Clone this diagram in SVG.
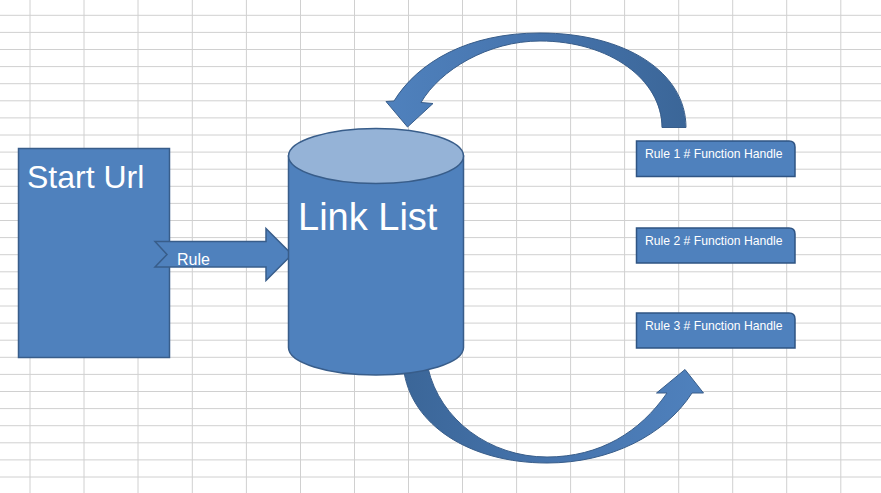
<svg xmlns="http://www.w3.org/2000/svg" width="881" height="493" viewBox="0 0 881 493">
<style>
.grid line{stroke:#d0d0d0;stroke-width:1}
.shape{fill:#4f81bd;stroke:#385d8a;stroke-width:1.5}
.lbl{fill:#ffffff;font-family:"Liberation Sans",Arial,sans-serif}
.rb{fill:#4f81bd;stroke:#2f5483;stroke-width:1.5}
</style>
<defs>
<linearGradient id="gTop" x1="386" y1="0" x2="686" y2="0" gradientUnits="userSpaceOnUse">
<stop offset="0" stop-color="#4f81bd"/><stop offset="0.5" stop-color="#4674ad"/><stop offset="1" stop-color="#3b6698"/>
</linearGradient>
<linearGradient id="gBot" x1="403" y1="0" x2="704" y2="0" gradientUnits="userSpaceOnUse">
<stop offset="0" stop-color="#3b6698"/><stop offset="0.5" stop-color="#4674ad"/><stop offset="1" stop-color="#4f81bd"/>
</linearGradient>
</defs>
<rect x="0" y="0" width="881" height="493" fill="#ffffff"/>
<g class="grid">
<line x1="30" y1="0" x2="30" y2="493"/><line x1="84" y1="0" x2="84" y2="493"/><line x1="138" y1="0" x2="138" y2="493"/><line x1="192.3" y1="0" x2="192.3" y2="493"/><line x1="246.4" y1="0" x2="246.4" y2="493"/><line x1="300.5" y1="0" x2="300.5" y2="493"/><line x1="354.5" y1="0" x2="354.5" y2="493"/><line x1="408.5" y1="0" x2="408.5" y2="493"/><line x1="462.5" y1="0" x2="462.5" y2="493"/><line x1="516.6" y1="0" x2="516.6" y2="493"/><line x1="570.6" y1="0" x2="570.6" y2="493"/><line x1="624.6" y1="0" x2="624.6" y2="493"/><line x1="678.7" y1="0" x2="678.7" y2="493"/><line x1="732.7" y1="0" x2="732.7" y2="493"/><line x1="786.7" y1="0" x2="786.7" y2="493"/><line x1="840.8" y1="0" x2="840.8" y2="493"/>
<line x1="0" y1="15.3" x2="881" y2="15.3"/><line x1="0" y1="32.4" x2="881" y2="32.4"/><line x1="0" y1="49.5" x2="881" y2="49.5"/><line x1="0" y1="66.6" x2="881" y2="66.6"/><line x1="0" y1="83.7" x2="881" y2="83.7"/><line x1="0" y1="100.8" x2="881" y2="100.8"/><line x1="0" y1="117.9" x2="881" y2="117.9"/><line x1="0" y1="135" x2="881" y2="135"/><line x1="0" y1="152.1" x2="881" y2="152.1"/><line x1="0" y1="169.2" x2="881" y2="169.2"/><line x1="0" y1="186.3" x2="881" y2="186.3"/><line x1="0" y1="203.4" x2="881" y2="203.4"/><line x1="0" y1="220.5" x2="881" y2="220.5"/><line x1="0" y1="237.6" x2="881" y2="237.6"/><line x1="0" y1="254.7" x2="881" y2="254.7"/><line x1="0" y1="271.8" x2="881" y2="271.8"/><line x1="0" y1="288.9" x2="881" y2="288.9"/><line x1="0" y1="306" x2="881" y2="306"/><line x1="0" y1="323.1" x2="881" y2="323.1"/><line x1="0" y1="340.2" x2="881" y2="340.2"/><line x1="0" y1="357.3" x2="881" y2="357.3"/><line x1="0" y1="374.4" x2="881" y2="374.4"/><line x1="0" y1="391.5" x2="881" y2="391.5"/><line x1="0" y1="408.6" x2="881" y2="408.6"/><line x1="0" y1="425.7" x2="881" y2="425.7"/><line x1="0" y1="442.8" x2="881" y2="442.8"/><line x1="0" y1="459.9" x2="881" y2="459.9"/><line x1="0" y1="477" x2="881" y2="477"/>
</g>
<g id="start-url">
<rect class="shape" x="18.5" y="148.5" width="151" height="209"/>
<text class="lbl" x="27" y="188" font-size="32">Start Url</text>
</g>
<g id="connectors">
<g id="rule-arrow">
<path class="shape" d="M155,241.5 L266,241.5 L266,228.5 L292,254.5 L266,280.5 L266,267 L155,267 L167,254.5 Z"/>
<text class="lbl" x="177" y="265" font-size="16">Rule</text>
</g>
<path id="top-arrow" fill="url(#gTop)" stroke="#385d8a" stroke-width="1" d="M686,127.5 C686,72 625,33 540,33 C468,33 418,62 394,101 L386,101.5 L407.5,127 L433,103.5 L421,102.5 C440,70 488,41 540,41 C610,41 662,80 662,127.5 Z"/>
<path id="bottom-arrow" fill="url(#gBot)" stroke="#385d8a" stroke-width="1" d="M403.5,368 C410,425 470,463 547,463 C610,463 665,435 692,393 L703.5,393 L685,369.5 L656.5,393 L667,393 C640,432 600,457 547,457 C490,457 440,420 428,368 Z"/>
</g>
<g id="link-list">
<path class="shape" d="M288.5,156 L288.5,347.5 A87.5,27.5 0 0 0 463.5,347.5 L463.5,156 Z"/>
<ellipse cx="376" cy="156" rx="87.5" ry="27.5" fill="#95b3d7" stroke="#385d8a" stroke-width="1.5"/>
<text class="lbl" x="298" y="230" font-size="38">Link List</text>
</g>
<g id="rule1">
<path class="rb" d="M636.5,141 L789,141 Q795,141 795,147 L795,176.5 L636.5,176.5 Z"/>
<text class="lbl" x="645" y="158" font-size="12.2">Rule 1 # Function Handle</text>
</g>
<g id="rule2">
<path class="rb" d="M636.5,228 L789,228 Q795,228 795,234 L795,263 L636.5,263 Z"/>
<text class="lbl" x="645" y="245" font-size="12.2">Rule 2 # Function Handle</text>
</g>
<g id="rule3">
<path class="rb" d="M636.5,313 L789,313 Q795,313 795,319 L795,348 L636.5,348 Z"/>
<text class="lbl" x="645" y="330" font-size="12.2">Rule 3 # Function Handle</text>
</g>
</svg>
